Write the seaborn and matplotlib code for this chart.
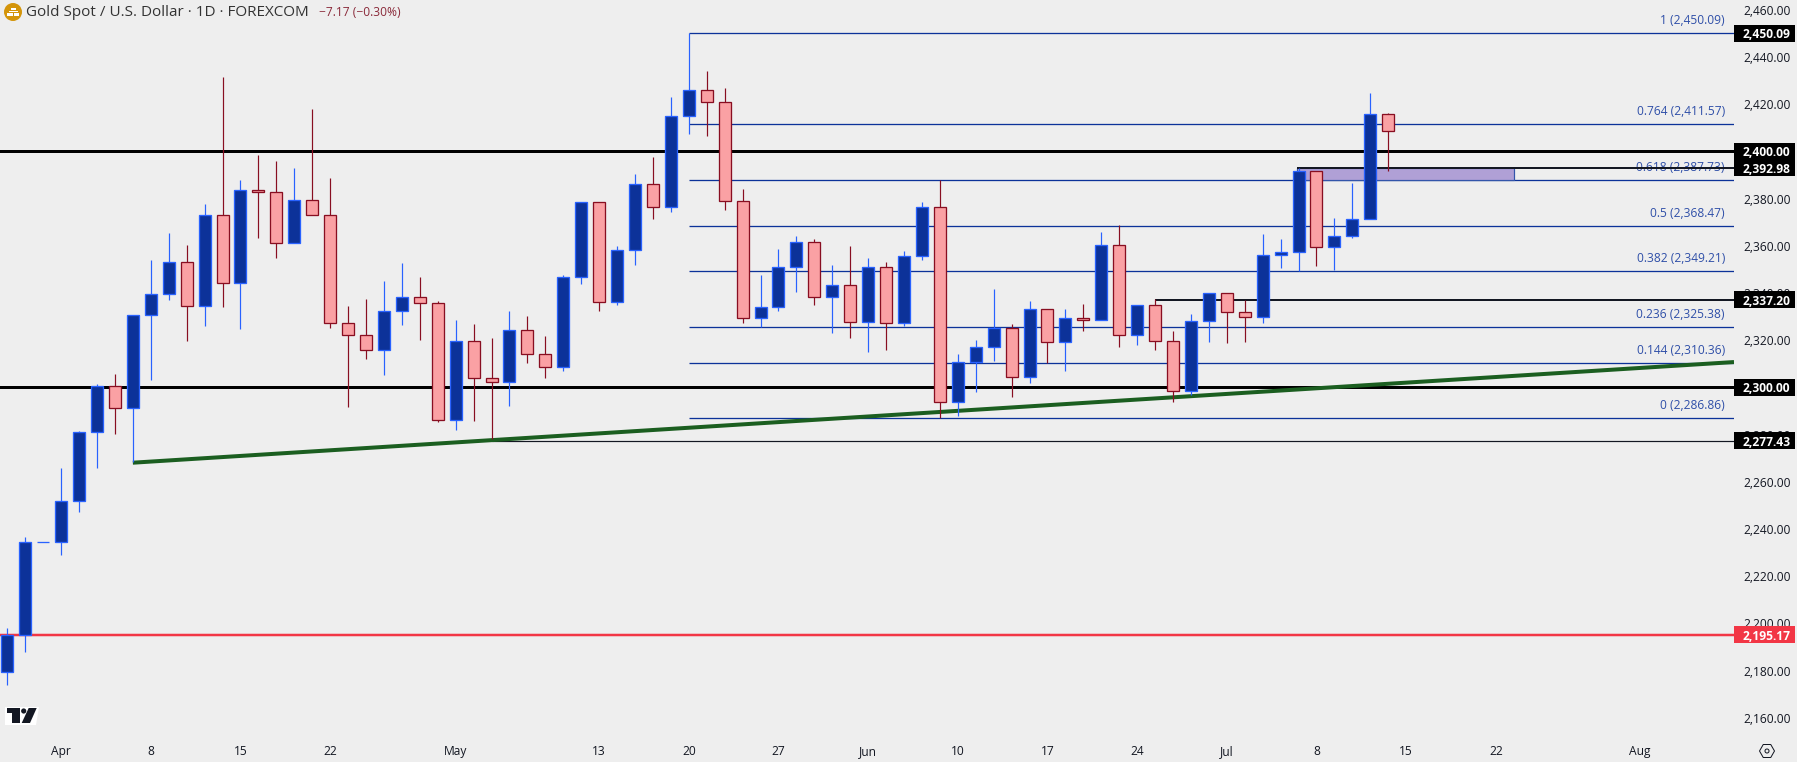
import matplotlib
matplotlib.use('Agg')
import matplotlib.pyplot as plt
from matplotlib.patches import Rectangle, Circle, Polygon, RegularPolygon
import pandas as pd
import seaborn as sns

# daily candles
open_ = [2179.2, 2194.9, 2234.3, 2234.3, 2251.7, 2280.9, 2300.5, 2291.1, 2330.5, 2339.4,
         2352.9, 2334.3, 2372.9, 2344.0, 2383.5, 2382.6, 2361.0, 2379.2, 2372.9, 2327.1,
         2322.0, 2315.7, 2332.2, 2338.1, 2335.6, 2286.0, 2319.5, 2303.8, 2302.1, 2324.1,
         2314.0, 2308.5, 2346.6, 2378.4, 2336.0, 2358.0, 2386.0, 2376.2, 2414.8, 2425.8,
         2420.7, 2378.8, 2329.2, 2333.9, 2350.8, 2361.4, 2338.1, 2343.2, 2327.5, 2350.8,
         2327.1, 2355.5, 2376.2, 2293.6, 2310.6, 2316.9, 2325.1, 2304.2, 2333.0, 2319.0,
         2329.2, 2328.4, 2360.1, 2322.0, 2334.7, 2319.5, 2298.3, 2327.9, 2339.8, 2331.8,
         2329.6, 2355.9, 2357.2, 2391.5, 2359.3, 2364.0, 2371.2, 2415.7]
high = [2197.9, 2236.4, 2234.3, 2265.8, 2281.5, 2301.4, 2305.6, 2330.5, 2353.9, 2365.4,
        2360.3, 2377.7, 2431.5, 2387.8, 2398.4, 2395.9, 2392.9, 2417.9, 2388.7, 2334.4,
        2337.4, 2345.0, 2352.7, 2346.7, 2336.6, 2328.5, 2326.8, 2320.9, 2332.3, 2330.2,
        2321.7, 2347.6, 2378.4, 2378.4, 2359.9, 2390.4, 2397.6, 2423.0, 2450.0, 2434.0,
        2426.8, 2384.0, 2347.6, 2358.6, 2364.1, 2362.8, 2351.8, 2359.9, 2354.8, 2353.1,
        2357.7, 2378.5, 2387.7, 2314.1, 2320.0, 2341.6, 2326.8, 2336.6, 2333.0, 2333.2,
        2335.3, 2365.8, 2368.8, 2334.7, 2337.4, 2323.8, 2331.0, 2339.8, 2339.8, 2337.0,
        2364.9, 2362.8, 2392.9, 2391.5, 2371.7, 2386.6, 2424.7, 2416.2]
low = [2174.0, 2187.9, 2234.3, 2229.1, 2247.3, 2265.9, 2280.3, 2268.2, 2303.2, 2337.1,
       2319.7, 2326.1, 2334.2, 2324.8, 2363.4, 2354.9, 2361.0, 2372.9, 2325.3, 2291.8,
       2312.1, 2305.4, 2326.5, 2320.2, 2285.4, 2282.0, 2285.9, 2277.9, 2292.2, 2310.4,
       2304.1, 2307.0, 2343.9, 2332.5, 2335.0, 2352.0, 2371.4, 2374.4, 2407.5, 2406.6,
       2375.3, 2327.4, 2325.4, 2332.5, 2340.5, 2335.0, 2323.1, 2321.0, 2315.1, 2315.9,
       2326.1, 2354.1, 2287.0, 2288.0, 2298.1, 2311.3, 2296.0, 2302.0, 2310.1, 2307.0,
       2324.0, 2328.4, 2317.2, 2318.1, 2315.9, 2293.9, 2296.9, 2319.3, 2318.9, 2319.3,
       2327.4, 2350.7, 2349.1, 2351.5, 2349.7, 2363.4, 2371.2, 2391.8]
close = [2194.9, 2234.3, 2234.3, 2251.7, 2280.9, 2300.5, 2291.1, 2330.5, 2339.4, 2352.9,
         2334.3, 2372.9, 2344.0, 2383.5, 2382.6, 2361.0, 2379.2, 2372.9, 2327.1, 2322.0,
         2315.7, 2332.2, 2338.1, 2335.6, 2286.0, 2319.5, 2303.8, 2302.1, 2324.1, 2314.0,
         2308.5, 2346.6, 2378.4, 2336.0, 2358.0, 2386.0, 2376.2, 2414.8, 2425.8, 2420.7,
         2378.8, 2329.2, 2333.9, 2350.8, 2361.4, 2338.1, 2343.2, 2327.5, 2350.8, 2327.1,
         2355.5, 2376.2, 2293.6, 2310.6, 2316.9, 2325.1, 2304.2, 2333.0, 2319.0, 2329.2,
         2328.4, 2360.1, 2322.0, 2334.7, 2319.5, 2298.3, 2327.9, 2339.8, 2331.8, 2329.6,
         2355.9, 2357.2, 2391.5, 2359.3, 2364.0, 2371.2, 2415.7, 2408.4]

# fib retracement levels
fib_ratio = ['1', '0.764', '0.618', '0.5', '0.382', '0.236', '0.144', '0']
fib_price = [2450.09, 2411.57, 2387.73, 2368.47, 2349.21, 2325.38, 2310.36, 2286.86]

# axis labels
price_ticks = [2160, 2180, 2200, 2220, 2240, 2260, 2280, 2300, 2320, 2340, 2360, 2380, 2400, 2420, 2440, 2460]
date_pos = [3, 8, 13, 18, 25, 33, 38, 43, 48, 53, 58, 63, 68, 73, 78, 83, 91]
date_labels = ['Apr', '8', '15', '22', 'May', '13', '20', '27', 'Jun', '10', '17', '24', 'Jul', '8', '15', '22', 'Aug']

# price tags on the right axis
tag_price = [2450.09, 2400.00, 2392.98, 2337.20, 2300.00, 2277.43, 2195.17]
tag_color = ['#000000', '#000000', '#000000', '#000000', '#000000', '#000000', '#f23645']

# trend line and zone
trend_x = [7.0, 96.28]
trend_y = [2268.05, 2310.7]
zone_x = [71.9, 84.0]

BG = '#eeeeee'
FIB_COL = '#0c3299'
UP_FILL, UP_EDGE = '#0c3299', '#2962ff'
DN_FILL, DN_EDGE = '#faa1a4', '#880e21'
TICK_COL = '#131722'
FONT = 'Open Sans'

sns.set_style('white', {'axes.facecolor': BG, 'figure.facecolor': BG})
plt.rcParams['font.family'] = [FONT, 'DejaVu Sans']

W, H = 1797, 762
fig = plt.figure(figsize=(W / 100, H / 100), dpi=100)
ax = fig.add_axes([0, (H - 735) / H, 1734 / W, 735 / H])
px = 0.72  # one pixel in points

df = pd.DataFrame({'day': range(len(open_)), 'open': open_, 'high': high, 'low': low, 'close': close})
df['bottom'] = df[['open', 'close']].min(axis=1)
df['body'] = (df['close'] - df['open']).abs()
df['up'] = df['close'] >= df['open']

right = 96.28

# levels behind the candles
ax.hlines([2400, 2300], -1, right, color='black', lw=3 * px, zorder=2)
ax.hlines(fib_price, 38, right, color=FIB_COL, lw=1.3 * px, zorder=2)
ax.hlines(2195.17, -1, right, color='#f23645', lw=2.5 * px, zorder=2)
ax.hlines(2392.98, zone_x[0], right, color='#131722', lw=2 * px, zorder=2.2)
ax.hlines(2337.20, 64, right, color='#131722', lw=2 * px, zorder=2.2)
ax.hlines(2277.43, 27, right, color='#131722', lw=1.2 * px, zorder=2.2)
ax.plot(trend_x, trend_y, color='#1b5e20', lw=4 * px, zorder=2.3, solid_capstyle='butt')
ax.add_patch(Rectangle((zone_x[0], 2387.73), zone_x[1] - zone_x[0], 2392.98 - 2387.73,
                       facecolor='#b0a0d6', edgecolor='#3355aa', lw=1.2 * px, zorder=2.1))

# wicks first, bodies on top
for is_up, edge, fill in [(True, UP_EDGE, UP_FILL), (False, DN_EDGE, DN_FILL)]:
    part = df[df['up'] == is_up]
    ax.vlines(part['day'], part['low'], part['high'], color=edge, lw=1.2 * px, zorder=3)
    sns.barplot(data=part, x='day', y='body', bottom=part['bottom'].values, native_scale=True,
                width=0.669, color=fill, saturation=1, edgecolor=edge, linewidth=1.3 * px,
                errorbar=None, zorder=4, ax=ax)

ax.set_xlim(-0.407, right)
ax.set_ylim(2152.67, 2464.11)
ax.set_xlabel('')
ax.set_ylabel('')
sns.despine(ax=ax, left=True, bottom=True, right=True, top=True)

ax.yaxis.tick_right()
ax.set_yticks(price_ticks)
ax.set_yticklabels([f'{p:,.2f}' for p in price_ticks])
ax.set_xticks(date_pos)
ax.set_xticklabels(date_labels)
ax.tick_params(axis='y', length=0, pad=6.5, labelsize=12 * px, labelcolor=TICK_COL)
ax.tick_params(axis='x', length=0, pad=7, labelsize=12 * px, labelcolor=TICK_COL)

# fib labels
for ratio, price in zip(fib_ratio, fib_price):
    ax.annotate(f'{ratio} ({price:,.2f})', xy=(1725 / 1734, price), xycoords=ax.get_yaxis_transform(),
                xytext=(0, 12.6), textcoords='offset pixels', ha='right', va='center',
                fontsize=12 * px, color='#2f4fa8', zorder=2.15)

# price tags
for price, col in zip(tag_price, tag_color):
    ax.add_patch(Rectangle((1.0, price - 3.6), 61 / 1734, 7.2, transform=ax.get_yaxis_transform(),
                           facecolor=col, edgecolor='none', clip_on=False, zorder=6))
    ax.text(1 + 9 / 1734, price, f'{price:,.2f}', transform=ax.get_yaxis_transform(), ha='left',
            va='center_baseline', color='white', fontsize=12 * px, fontweight='bold', zorder=7)

# header and small icons, in pixel coordinates
over = fig.add_axes([0, 0, 1, 1], facecolor='none', zorder=10)
over.set_xlim(0, W)
over.set_ylim(H, 0)
over.axis('off')
over.text(26, 12.5, 'Gold Spot / U.S. Dollar · 1D · FOREXCOM', fontsize=15.3 * px, color='#333333', va='center', ha='left')
over.text(319, 12.5, '−7.17 (−0.30%)', fontsize=12 * px, color='#8a2a3a', va='center', ha='left')

over.add_patch(Circle((13, 12), 9, facecolor='#d4950a', edgecolor='none'))
for x0, y0, w, h in [(10.5, 7.5, 5, 2.5), (8.5, 10.5, 9, 1.5), (7, 13, 5.5, 3), (13.5, 13, 5.5, 3)]:
    over.add_patch(Rectangle((x0, y0), w, h, facecolor='white', edgecolor='none'))

# watermark logo
over.add_patch(Polygon([(5, 707), (39, 707), (36, 725), (5, 725)], facecolor='white', edgecolor='none'))
over.add_patch(Polygon([(7, 708), (19.5, 708), (19.5, 723), (12, 723), (12, 713), (7, 713)],
                       facecolor='#131722', edgecolor='none'))
over.add_patch(Circle((23.7, 711), 2.6, facecolor='#131722', edgecolor='none'))
over.add_patch(Polygon([(28.7, 708), (36.7, 708), (30, 723), (21.7, 723)], facecolor='#131722', edgecolor='none'))

# settings icon
over.add_patch(RegularPolygon((1767, 751), 6, radius=7.5, orientation=0.5236,
                              facecolor='none', edgecolor='#131722', lw=1 * px))
over.add_patch(Circle((1767, 751), 2, facecolor='none', edgecolor='#131722', lw=1 * px))

fig.savefig('out.png', dpi=100, facecolor=BG)
